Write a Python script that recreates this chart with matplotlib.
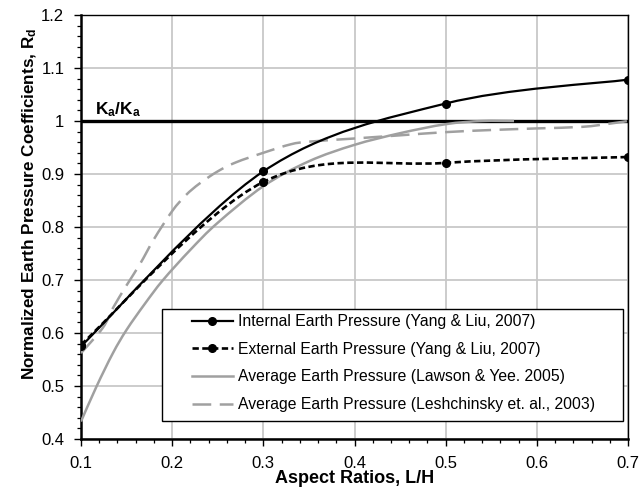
import numpy as np
import matplotlib
matplotlib.use("Agg")
import matplotlib.pyplot as plt
from matplotlib.path import Path
from matplotlib.patches import PathPatch, Rectangle
from matplotlib.lines import Line2D

plt.rcParams['font.family'] = ['Liberation Sans', 'DejaVu Sans']
plt.rcParams['mathtext.fontset'] = 'custom'
plt.rcParams['mathtext.rm'] = 'Liberation Sans'
plt.rcParams['mathtext.bf'] = 'Liberation Sans:bold'
plt.rcParams['mathtext.it'] = 'Liberation Sans:italic'

# ---- data ----
internal_x = [0.1, 0.3, 0.5, 0.7]
internal_y = [0.575, 0.905, 1.033, 1.078]

external_x = [0.1, 0.3, 0.5, 0.7]
external_y = [0.578, 0.885, 0.921, 0.932]

lawson_x = [0.1, 0.117, 0.135, 0.15, 0.17, 0.19, 0.22, 0.25, 0.3, 0.35, 0.4, 0.45, 0.5, 0.54, 0.575]
lawson_y = [0.433, 0.499, 0.562, 0.606, 0.655, 0.700, 0.757, 0.808, 0.877, 0.924, 0.955, 0.977, 0.994, 1.0, 1.0]

lesh_x = [0.1, 0.124, 0.135, 0.15, 0.165, 0.18, 0.2, 0.215, 0.23, 0.25, 0.27, 0.3, 0.33, 0.35, 0.4, 0.45, 0.5, 0.55, 0.6, 0.65, 0.68, 0.7]
lesh_y = [0.562, 0.610, 0.647, 0.690, 0.731, 0.777, 0.830, 0.860, 0.882, 0.905, 0.922, 0.940, 0.956, 0.961, 0.967, 0.973, 0.979, 0.983, 0.986, 0.989, 0.995, 1.0]

ka_x = [0.1, 0.7]
ka_y = [1.0, 1.0]

labels = ["Internal Earth Pressure (Yang & Liu, 2007)",
          "External Earth Pressure (Yang & Liu, 2007)",
          "Average Earth Pressure (Lawson & Yee. 2005)",
          "Average Earth Pressure (Leshchinsky et. al., 2003)"]

xticks = [0.1, 0.2, 0.3, 0.4, 0.5, 0.6, 0.7]
yticks = [0.4, 0.5, 0.6, 0.7, 0.8, 0.9, 1.0, 1.1, 1.2]


def smooth_path(xs, ys):
    """Excel-style smoothed line as cubic Bezier path through the points."""
    pts = np.column_stack([xs, ys]).astype(float)
    n = len(pts)
    verts = [pts[0]]
    codes = [Path.MOVETO]
    for i in range(n - 1):
        p0 = pts[i - 1] if i > 0 else pts[i]
        p1 = pts[i]
        p2 = pts[i + 1]
        p3 = pts[i + 2] if i + 2 < n else pts[i + 1]
        c1 = p1 + (p2 - p0) / 6.0
        c2 = p2 - (p3 - p1) / 6.0
        verts += [c1, c2, p2]
        codes += [Path.CURVE4] * 3
    return Path(verts, codes)


fig = plt.figure(figsize=(6.42, 4.98), dpi=100)
W, H = 642, 498
L, R, T, B = 81, 628, 15, 439
ax = fig.add_axes([L / W, 1 - B / H, (R - L) / W, (B - T) / H])

ax.set_xlim(0.1, 0.7)
ax.set_ylim(0.4, 1.2)

gray = '#a0a0a0'
glw = 1.8

# grid
ax.grid(True, which='major', color='#c8c8c8', lw=1.3, zorder=0)
ax.set_axisbelow(True)

# Ka/Ka line
ax.plot(ka_x, ka_y, color='black', lw=2.4, solid_capstyle='butt', zorder=3)

# gray curves
ax.add_patch(PathPatch(smooth_path(lawson_x, lawson_y), fill=False, edgecolor=gray,
                       lw=glw, zorder=3.2))
ax.add_patch(PathPatch(smooth_path(lesh_x, lesh_y), fill=False, edgecolor=gray,
                       lw=glw, linestyle=(0, (7.5, 3.4)), zorder=3.1))

# black curves
ax.add_patch(PathPatch(smooth_path(external_x, external_y), fill=False, edgecolor='black',
                       lw=1.9, linestyle=(0, (2.4, 1.3)), zorder=3.4))
ax.plot(external_x, external_y, 'o', color='black', ms=5.5, zorder=3.5)
ax.add_patch(PathPatch(smooth_path(internal_x, internal_y), fill=False, edgecolor='black',
                       lw=1.6, zorder=3.6))
ax.plot(internal_x, internal_y, 'o', color='black', ms=5.5, zorder=3.7)

ax.text(0.1155, 1.013, r'$\mathbf{K_a/K_a}$', fontsize=12.5, ha='left', va='baseline', zorder=4)

# ticks
ax.set_xticks(xticks)
ax.set_yticks(yticks)
ax.set_xticklabels([f'{v:g}' for v in xticks])
ax.set_yticklabels([f'{v:g}' for v in yticks])
ax.set_xticks(np.arange(0.1, 0.7001, 0.02), minor=True)
ax.set_yticks(np.arange(0.4, 1.2001, 0.02), minor=True)
ax.tick_params(which='major', direction='out', length=5, width=1, labelsize=12, colors='black')
ax.tick_params(axis='y', which='major', pad=7)
ax.tick_params(axis='x', which='major', pad=7)
ax.tick_params(which='minor', direction='out', length=3, width=0.9)

for s in ['left', 'bottom']:
    ax.spines[s].set_linewidth(1.8)
for s in ['top', 'right']:
    ax.spines[s].set_linewidth(1.0)

ax.set_xlabel('Aspect Ratios, L/H', fontsize=13, fontweight='bold')
ax.set_ylabel(r'Normalized Earth Pressure Coefficients, $\mathbf{R_d}$', fontsize=12.3, fontweight='bold')
ax.xaxis.set_label_coords(0.501, -0.072)
ax.yaxis.set_label_coords(-0.077, 0.554)

# legend box
def ax_x(px):
    return (px - L) / (R - L)

def ax_y(py):
    return 1 - (py - T) / (B - T)

rect = Rectangle((ax_x(162), ax_y(421)), ax_x(623) - ax_x(162), ax_y(309) - ax_y(421),
                 transform=ax.transAxes, facecolor='white', edgecolor='black', lw=1.0, zorder=4.5)
ax.add_patch(rect)

handles = [
    Line2D([], [], color='black', lw=1.6, marker='o', ms=5.5),
    Line2D([], [], color='black', lw=1.9, linestyle=(0, (2.4, 1.3)), marker='o', ms=5.5),
    Line2D([], [], color=gray, lw=glw),
    Line2D([], [], color=gray, lw=glw, linestyle=(0, (7.5, 3.4))),
]
leg = ax.legend(handles, labels, loc='upper left', bbox_to_anchor=(ax_x(192), ax_y(314)),
                bbox_transform=ax.transAxes, frameon=False, fontsize=11.3, borderpad=0,
                borderaxespad=0, handlelength=2.6, handletextpad=0.32, labelspacing=0.81,
                numpoints=1)
leg.set_zorder(5)

fig.savefig('out.png', dpi=100)
